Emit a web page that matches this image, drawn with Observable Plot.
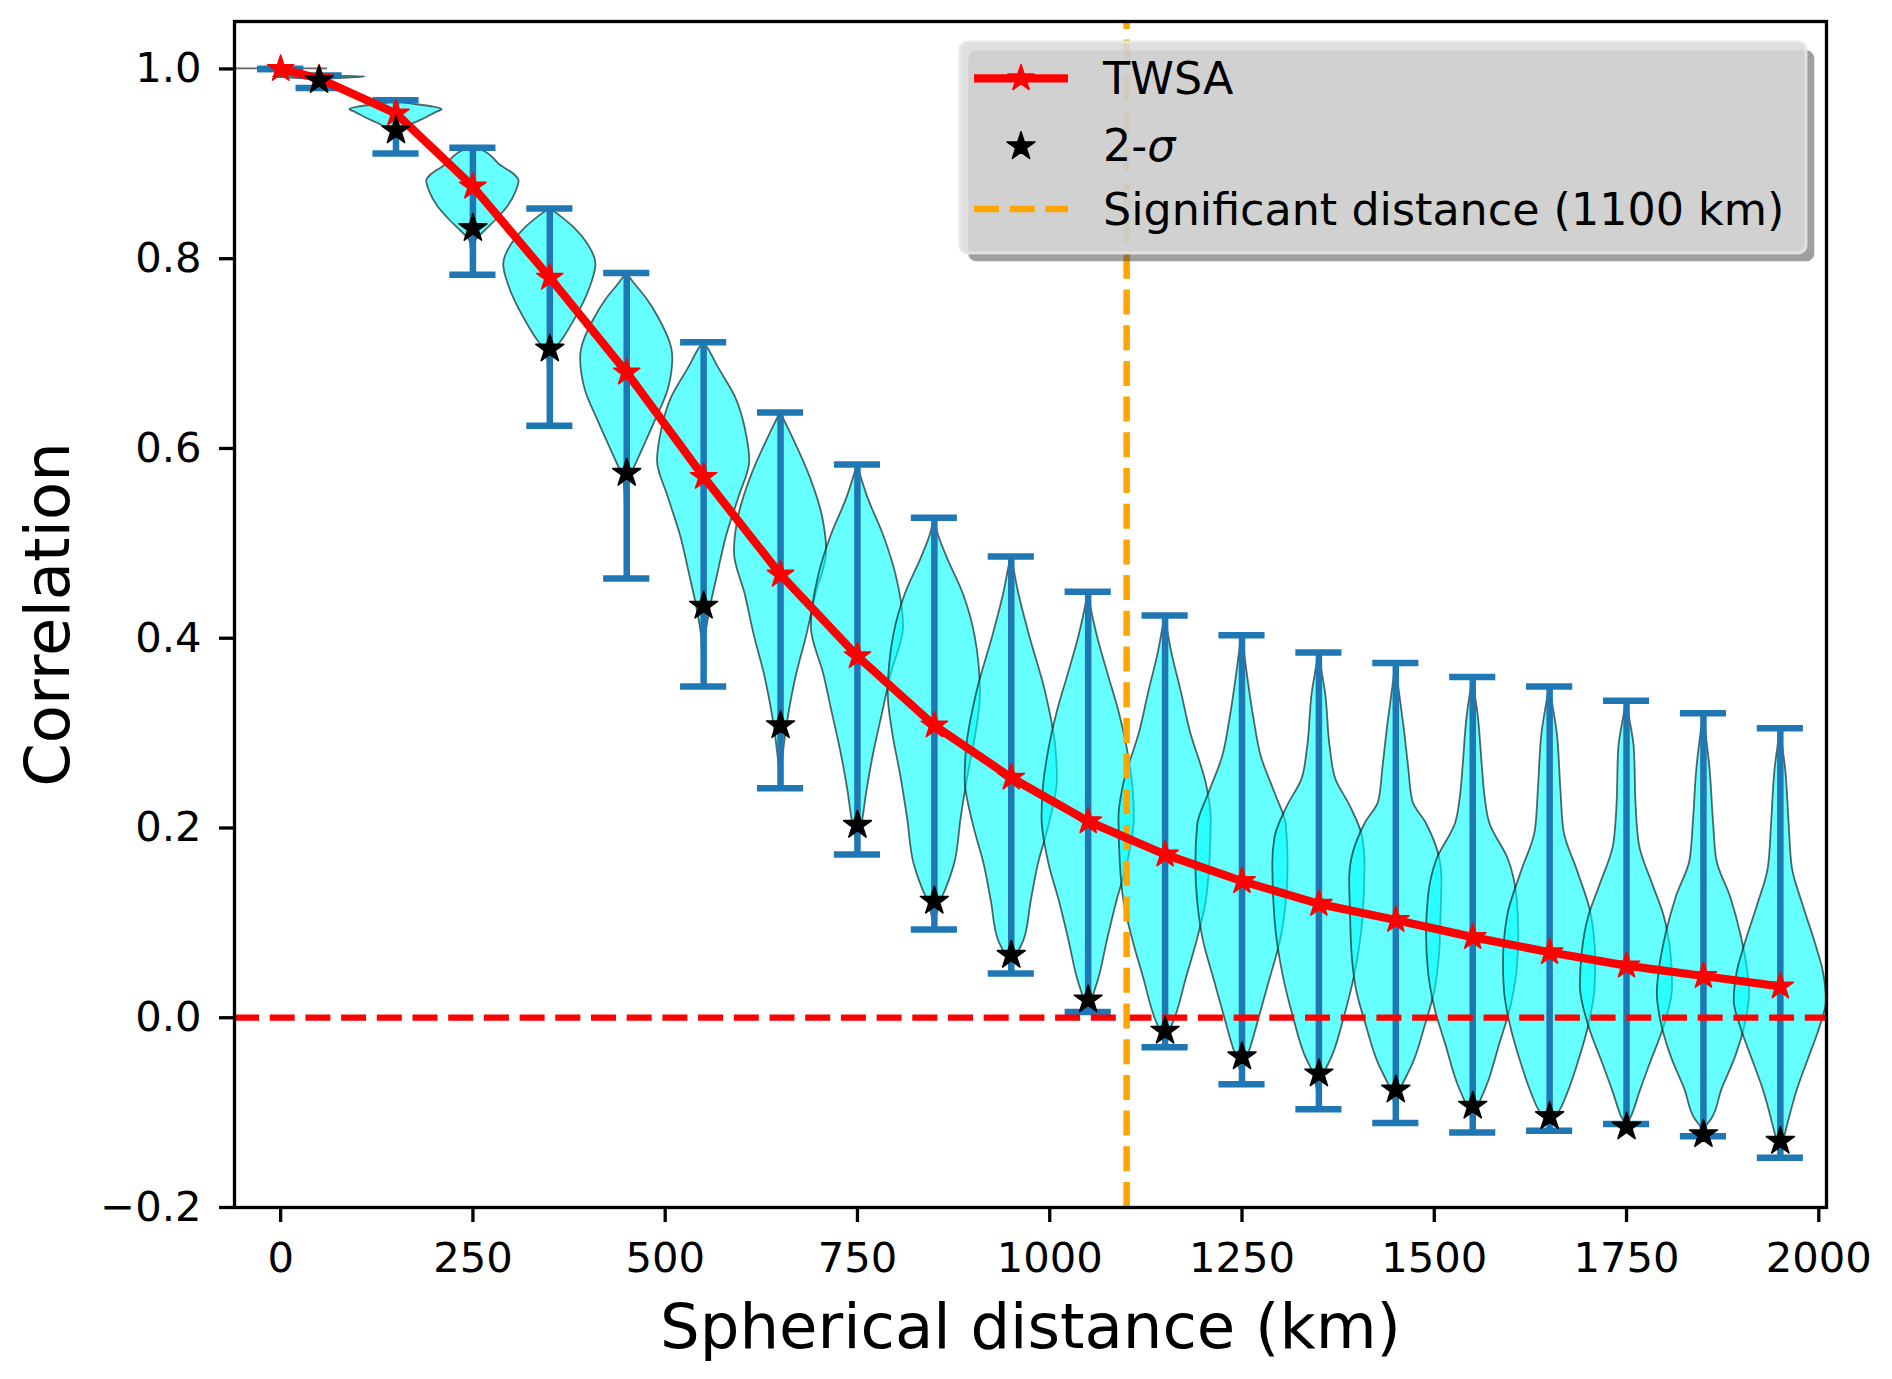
<!DOCTYPE html>
<html>
<head>
<meta charset="utf-8">
<script src="https://cdn.jsdelivr.net/npm/d3@7"></script>
<script src="https://cdn.jsdelivr.net/npm/@observablehq/plot@0.6"></script>
<style>
  html, body { margin: 0; padding: 0; background: #fff; }
  #chart svg { display: block; }
</style>
</head>
<body>
<div id="chart"></div>
<script>
// violin centres (km)
const positions = [0, 50, 150, 250, 350, 450, 550, 650, 750, 850, 950, 1050, 1150, 1250, 1350, 1450, 1550, 1650, 1750, 1850, 1950];
// min / max whiskers of each violin
const barMin = [1.0, 0.980, 0.911, 0.783, 0.624, 0.463, 0.349, 0.242, 0.172, 0.093, 0.0465, 0.006, -0.031, -0.070, -0.0965, -0.111, -0.121, -0.119, -0.112, -0.125, -0.1475];
const barMax = [1.0, 0.993, 0.967, 0.917, 0.853, 0.785, 0.712, 0.638, 0.583, 0.527, 0.486, 0.449, 0.424, 0.403, 0.385, 0.374, 0.359, 0.349, 0.334, 0.321, 0.305];
// TWSA mean correlation
const twsaDist = positions;
const twsaCorr = [1.0, 0.99, 0.953, 0.876, 0.780, 0.680, 0.570, 0.467, 0.381, 0.308, 0.253, 0.207, 0.172, 0.144, 0.120, 0.103, 0.085, 0.069, 0.055, 0.044, 0.033];
// 2-sigma level
const sigmaDist = positions.slice(1);
const sigmaCorr = [0.988, 0.935, 0.832, 0.705, 0.574, 0.434, 0.308, 0.203, 0.123, 0.066, 0.019, -0.014, -0.041, -0.059, -0.076, -0.093, -0.104, -0.115, -0.123, -0.130];
// violin outlines: correlation values and relative density (1 = widest)
const violinVals = [
  [1.0, 1.0],
  [0.980, 0.987, 0.989, 0.990, 0.9915, 0.9925, 0.993],
  [0.911, 0.925, 0.934, 0.938, 0.943, 0.948, 0.954, 0.957, 0.960, 0.962, 0.965, 0.967],
  [0.783, 0.800, 0.818, 0.829, 0.840, 0.855, 0.871, 0.882, 0.889, 0.899, 0.908, 0.913, 0.916, 0.917],
  [0.624, 0.660, 0.692, 0.706, 0.717, 0.734, 0.755, 0.773, 0.794, 0.815, 0.833, 0.847, 0.853],
  [0.463, 0.520, 0.562, 0.574, 0.595, 0.629, 0.662, 0.695, 0.737, 0.758, 0.775, 0.785],
  [0.349, 0.380, 0.404, 0.433, 0.466, 0.508, 0.549, 0.587, 0.612, 0.654, 0.687, 0.705, 0.712],
  [0.242, 0.260, 0.278, 0.308, 0.320, 0.362, 0.403, 0.445, 0.491, 0.528, 0.570, 0.612, 0.630, 0.638],
  [0.172, 0.190, 0.210, 0.237, 0.278, 0.320, 0.362, 0.412, 0.466, 0.508, 0.549, 0.570, 0.583],
  [0.093, 0.105, 0.123, 0.135, 0.162, 0.210, 0.258, 0.299, 0.341, 0.403, 0.445, 0.487, 0.510, 0.527],
  [0.0465, 0.055, 0.065, 0.082, 0.122, 0.162, 0.203, 0.251, 0.283, 0.344, 0.404, 0.450, 0.475, 0.486],
  [0.006, 0.012, 0.021, 0.041, 0.082, 0.122, 0.162, 0.211, 0.243, 0.283, 0.324, 0.364, 0.404, 0.435, 0.449],
  [-0.031, -0.022, -0.015, 0.001, 0.041, 0.082, 0.122, 0.162, 0.211, 0.243, 0.303, 0.344, 0.384, 0.410, 0.424],
  [-0.070, -0.055, -0.042, -0.030, 0.001, 0.041, 0.082, 0.122, 0.162, 0.203, 0.235, 0.275, 0.315, 0.364, 0.390, 0.403],
  [-0.0965, -0.075, -0.059, -0.040, 0.000, 0.041, 0.102, 0.162, 0.190, 0.223, 0.251, 0.283, 0.344, 0.370, 0.385],
  [-0.111, -0.090, -0.076, -0.068, -0.049, -0.010, 0.029, 0.068, 0.107, 0.147, 0.166, 0.205, 0.228, 0.263, 0.302, 0.350, 0.374],
  [-0.121, -0.105, -0.095, -0.068, -0.029, 0.010, 0.049, 0.088, 0.127, 0.166, 0.205, 0.236, 0.264, 0.322, 0.345, 0.359],
  [-0.119, -0.110, -0.100, -0.080, -0.049, -0.010, 0.029, 0.057, 0.107, 0.154, 0.197, 0.244, 0.302, 0.335, 0.349],
  [-0.112, -0.107, -0.095, -0.080, -0.049, -0.010, 0.033, 0.069, 0.108, 0.139, 0.182, 0.221, 0.283, 0.320, 0.334],
  [-0.125, -0.115, -0.107, -0.076, -0.041, -0.002, 0.026, 0.049, 0.088, 0.127, 0.166, 0.205, 0.264, 0.305, 0.321],
  [-0.1475, -0.135, -0.115, -0.076, -0.041, -0.010, 0.018, 0.049, 0.080, 0.119, 0.158, 0.205, 0.264, 0.290, 0.305]
];
const violinDens = [
  [1, 1],
  [0, 0.05, 0.2, 0.5, 1.0, 0.3, 0],
  [0, 0.02, 0.08, 0.22, 0.41, 0.64, 0.87, 1.0, 0.8, 0.5, 0.1, 0],
  [0, 0.02, 0.06, 0.26, 0.49, 0.76, 0.94, 1.0, 0.89, 0.58, 0.4, 0.25, 0.08, 0],
  [0, 0.02, 0.04, 0.15, 0.31, 0.52, 0.75, 0.9, 1.0, 0.83, 0.52, 0.17, 0],
  [0, 0.02, 0.05, 0.12, 0.31, 0.62, 0.9, 1.0, 0.7, 0.43, 0.15, 0],
  [0, 0.02, 0.05, 0.15, 0.3, 0.5, 0.77, 1.0, 0.94, 0.69, 0.3, 0.1, 0],
  [0, 0.02, 0.06, 0.14, 0.18, 0.35, 0.57, 0.76, 1.0, 0.91, 0.64, 0.26, 0.08, 0],
  [0, 0.04, 0.12, 0.2, 0.35, 0.54, 0.73, 1.0, 0.84, 0.57, 0.22, 0.08, 0],
  [0, 0.04, 0.14, 0.25, 0.44, 0.58, 0.74, 0.9, 1.0, 0.88, 0.64, 0.26, 0.08, 0],
  [0, 0.04, 0.12, 0.28, 0.43, 0.59, 0.82, 1.0, 0.97, 0.74, 0.39, 0.15, 0.05, 0],
  [0, 0.04, 0.1, 0.23, 0.42, 0.62, 0.85, 1.0, 0.97, 0.85, 0.66, 0.42, 0.19, 0.05, 0],
  [0, 0.04, 0.1, 0.23, 0.46, 0.7, 0.89, 0.97, 1.0, 0.91, 0.54, 0.35, 0.15, 0.05, 0],
  [0, 0.04, 0.12, 0.2, 0.38, 0.61, 0.84, 0.96, 1.0, 0.96, 0.73, 0.42, 0.26, 0.11, 0.04, 0],
  [0, 0.04, 0.12, 0.3, 0.55, 0.76, 0.95, 1.0, 0.95, 0.68, 0.37, 0.25, 0.14, 0.05, 0],
  [0, 0.03, 0.1, 0.18, 0.37, 0.63, 0.85, 0.95, 0.98, 1.0, 0.96, 0.66, 0.37, 0.28, 0.19, 0.06, 0],
  [0, 0.03, 0.11, 0.34, 0.58, 0.82, 0.96, 1.0, 0.96, 0.78, 0.37, 0.26, 0.21, 0.11, 0.04, 0],
  [0, 0.04, 0.2, 0.39, 0.61, 0.84, 0.98, 1.0, 0.91, 0.61, 0.31, 0.24, 0.16, 0.05, 0],
  [0, 0.08, 0.18, 0.28, 0.51, 0.81, 1.0, 0.96, 0.81, 0.58, 0.28, 0.21, 0.17, 0.05, 0],
  [0, 0.06, 0.18, 0.40, 0.70, 0.93, 1.0, 0.96, 0.81, 0.59, 0.29, 0.22, 0.14, 0.04, 0],
  [0, 0.05, 0.15, 0.37, 0.63, 0.86, 1.0, 0.93, 0.75, 0.49, 0.26, 0.19, 0.11, 0.04, 0]
];
const sigDistance = 1100;
const xTicks = [0, 250, 500, 750, 1000, 1250, 1500, 1750, 2000];
const yTicks = [-0.2, 0.0, 0.2, 0.4, 0.6, 0.8, 1.0];
const xDomain = [-60, 2010];
const yDomain = [-0.2, 1.05];

const halfViolin = 60;   // km, half of violin width
const halfCap = 30;      // km, half of cap width
const C0 = "#1f77b4";
const FONT = "DejaVu Sans";

const violinRows = positions.flatMap((p, i) =>
  violinVals[i].map((v, j) => ({pos: p, v, w: violinDens[i][j]})));
const bars = positions.map((p, i) => ({pos: p, min: barMin[i], max: barMax[i]}));
const twsa = twsaDist.map((d, i) => ({d, c: twsaCorr[i]}));
const sigma = sigmaDist.map((d, i) => ({d, c: sigmaCorr[i]}));

const violinStyle = {
  y: "v",
  x1: d => d.pos - halfViolin * d.w,
  x2: d => d.pos + halfViolin * d.w,
  z: "pos",
  fill: "cyan", fillOpacity: 0.6,
  stroke: "black", strokeOpacity: 0.6, strokeWidth: 1.8,
  clip: "frame"
};
const fmtY = d => (d < 0 ? "\u2212" : "") + Math.abs(d).toFixed(1);
const redR = 8.3, blackR = 8.8;
const barW = 6.5;

const chart = Plot.plot({
  width: 1892, height: 1379,
  marginLeft: 234, marginRight: 66, marginTop: 21, marginBottom: 172,
  style: {fontFamily: FONT, background: "white", color: "black", overflow: "visible"},
  x: {domain: xDomain, label: null},
  y: {domain: yDomain, label: null},
  marks: [
    Plot.areaX(violinRows.filter(d => d.pos > 0), {...violinStyle, curve: "monotone-y"}),
    Plot.areaX(violinRows.filter(d => d.pos === 0), {...violinStyle, curve: "linear"}),
    Plot.ruleX(bars, {x: "pos", y1: "min", y2: "max", stroke: C0, strokeWidth: barW}),
    Plot.ruleY(bars, {y: "min", x1: d => d.pos - halfCap, x2: d => d.pos + halfCap, stroke: C0, strokeWidth: barW}),
    Plot.ruleY(bars, {y: "max", x1: d => d.pos - halfCap, x2: d => d.pos + halfCap, stroke: C0, strokeWidth: barW}),
    Plot.ruleY([0], {stroke: "red", strokeWidth: 6.25, strokeDasharray: "25 10.7"}),
    Plot.ruleX([sigDistance], {y1: yDomain[0], y2: yDomain[1], stroke: "orange", strokeWidth: 6.5, strokeDasharray: "25 10.7"}),
    Plot.line(twsa, {x: "d", y: "c", stroke: "red", strokeWidth: 8.3, strokeLinejoin: "round"}),
    Plot.dot(twsa, {x: "d", y: "c", symbol: "star", r: redR, fill: "red", stroke: "red", strokeWidth: 1.5, strokeLinejoin: "round"}),
    Plot.dot(sigma, {x: "d", y: "c", symbol: "star", r: blackR, fill: "black", stroke: "black", strokeWidth: 1.5, strokeLinejoin: "round"}),
    Plot.frame({stroke: "black", strokeWidth: 3.3}),
    Plot.axisX(xTicks, {tickSize: 15, tickPadding: 20, fontSize: 41.7, strokeWidth: 3.3, tickFormat: d => String(d), label: null}),
    Plot.axisY(yTicks, {tickSize: 15, tickPadding: 18, fontSize: 41.7, strokeWidth: 3.3, tickFormat: fmtY, label: null}),
    Plot.text(["Spherical distance (km)"], {text: d => d, frameAnchor: "bottom", lineAnchor: "middle", textAnchor: "middle",
      dy: 120, fontSize: 62.5, fill: "black"}),
    Plot.text(["Correlation"], {text: d => d, frameAnchor: "left", lineAnchor: "middle", textAnchor: "middle",
      rotate: -90, dx: -186, fontSize: 62.5, fill: "black"})
  ]
});
document.getElementById("chart").appendChild(chart);

// legend (matplotlib style, with shadow)
const svg = d3.select(chart);
const lg = svg.append("g").attr("font-family", FONT).attr("text-anchor", "start");
lg.append("rect").attr("x", 968.3).attr("y", 50.3).attr("width", 846).attr("height", 211).attr("rx", 8)
  .attr("fill", "rgb(63,63,63)").attr("fill-opacity", 0.5);
lg.append("rect").attr("x", 960).attr("y", 42).attr("width", 846).attr("height", 211).attr("rx", 8)
  .attr("fill", "#dadada").attr("fill-opacity", 0.86)
  .attr("stroke", "#e4e4e4").attr("stroke-opacity", 0.9).attr("stroke-width", 3);
const starPath = r => d3.symbol(d3.symbolStar, r * r * Math.PI)();
const hx0 = 974, hx1 = 1068, hxc = (hx0 + hx1) / 2, tx = 1103;
const rows = [78.3, 144.5, 209];
lg.append("line").attr("x1", hx0).attr("x2", hx1).attr("y1", rows[0]).attr("y2", rows[0])
  .attr("stroke", "red").attr("stroke-width", 8.3);
lg.append("path").attr("d", starPath(redR)).attr("transform", `translate(${hxc},${rows[0]})`)
  .attr("fill", "red").attr("stroke", "red").attr("stroke-width", 1.5).attr("stroke-linejoin", "round");
lg.append("path").attr("d", starPath(blackR)).attr("transform", `translate(${hxc},${rows[1] + 2})`)
  .attr("fill", "black").attr("stroke", "black").attr("stroke-width", 1.5).attr("stroke-linejoin", "round");
lg.append("line").attr("x1", hx0).attr("x2", hx1).attr("y1", rows[2]).attr("y2", rows[2])
  .attr("stroke", "orange").attr("stroke-width", 6.5).attr("stroke-dasharray", "25 10.7");
const fs = 44.4;
lg.append("text").attr("x", tx).attr("y", rows[0] + 16).attr("font-size", fs).attr("fill", "black").text("TWSA");
const t2 = lg.append("text").attr("x", tx).attr("y", rows[1] + 16).attr("font-size", fs).attr("fill", "black");
t2.append("tspan").text("2-");
t2.append("tspan").attr("font-style", "italic").text("\u03c3");
lg.append("text").attr("x", tx).attr("y", rows[2] + 16).attr("font-size", fs).attr("fill", "black")
  .text("Significant distance (1100 km)");
</script>
</body>
</html>
